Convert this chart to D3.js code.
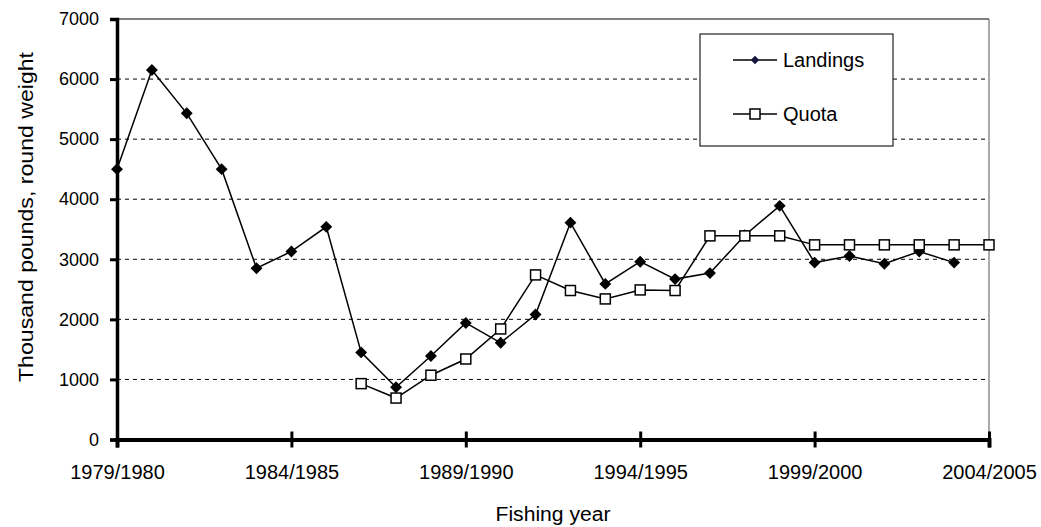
<html>
<head>
<meta charset="utf-8">
<script src="https://d3js.org/d3.v7.min.js"></script>
<style>
body { margin: 0; background: #fff; }
svg text { font-family: "Liberation Sans", Arial, sans-serif; fill: #000; }
</style>
</head>
<body>
<svg id="chart" width="1041" height="527"></svg>
<script>
// fishing years, one label per season
var fishingYears = ["1979/1980","1980/1981","1981/1982","1982/1983","1983/1984","1984/1985",
	"1985/1986","1986/1987","1987/1988","1988/1989","1989/1990","1990/1991","1991/1992",
	"1992/1993","1993/1994","1994/1995","1995/1996","1996/1997","1997/1998","1998/1999",
	"1999/2000","2000/2001","2001/2002","2002/2003","2003/2004","2004/2005"];
var landings = [4500, 6150, 5430, 4500, 2850, 3130, 3540, 1450, 870, 1390, 1940, 1610, 2080,
	3610, 2590, 2960, 2670, 2770, 3400, 3890, 2945, 3055, 2925, 3130, 2945, null];
var quota = [null, null, null, null, null, null, null, 930, 690, 1070, 1340, 1840, 2740,
	2480, 2340, 2490, 2480, 3390, 3390, 3390, 3240, 3240, 3240, 3240, 3240, 3240];
var yTicks = [0, 1000, 2000, 3000, 4000, 5000, 6000, 7000];
var xLabelIdx = [0, 5, 10, 15, 20, 25];
var seriesNames = ["Landings", "Quota"];

var width = 1041, height = 527;
var margin = {top: 19, right: 52, bottom: 87.5, left: 117};
var innerwidth = width - margin.left - margin.right;
var innerheight = height - margin.top - margin.bottom;

var svg = d3.select("#chart");
var g = svg.append("g").attr("transform", "translate(" + margin.left + "," + margin.top + ")");

var x = d3.scaleLinear().domain([0, fishingYears.length - 1]).range([0, innerwidth]);
var y = d3.scaleLinear().domain([0, 7000]).range([innerheight, 0]);

// gridlines
g.selectAll(".grid").data(yTicks.filter(d => d > 0 && d < 7000)).enter()
	.append("line")
	.attr("x1", 0).attr("x2", innerwidth)
	.attr("y1", d => y(d)).attr("y2", d => y(d))
	.attr("stroke", "#000").attr("stroke-width", 1)
	.attr("stroke-dasharray", "4,4");
// top and right frame
g.append("line").attr("x1", 0).attr("x2", innerwidth).attr("y1", y(7000)).attr("y2", y(7000))
	.attr("stroke", "#000").attr("stroke-width", 1.2);
g.append("line").attr("x1", innerwidth).attr("x2", innerwidth).attr("y1", y(7000)).attr("y2", y(0))
	.attr("stroke", "#555").attr("stroke-width", 1);

// y axis
var yAxis = g.append("g")
	.call(d3.axisLeft(y).tickValues(yTicks).tickFormat(d3.format("d")).tickSize(7).tickPadding(11));
yAxis.select(".domain").attr("stroke-width", 3.5);
yAxis.selectAll(".tick line").attr("stroke-width", 3);
yAxis.selectAll(".tick text").style("font-size", "18px");

// x axis
var xAxis = g.append("g")
	.attr("transform", "translate(0," + innerheight + ")")
	.call(d3.axisBottom(x).tickValues(xLabelIdx).tickFormat(i => fishingYears[i]).tickSize(8).tickPadding(17));
xAxis.select(".domain").attr("stroke-width", 4);
xAxis.selectAll(".tick line").attr("y1", -8).attr("stroke-width", 3);
xAxis.selectAll(".tick text").style("font-size", "20px");
svg.selectAll(".domain, .tick line").attr("stroke", "#000");

// axis titles
svg.append("text")
	.attr("x", margin.left + innerwidth / 2).attr("y", 521)
	.attr("text-anchor", "middle").style("font-size", "20px")
	.attr("textLength", 115).attr("lengthAdjust", "spacingAndGlyphs")
	.text("Fishing year");
svg.append("text")
	.attr("transform", "translate(33,217) rotate(-90)")
	.attr("text-anchor", "middle").style("font-size", "20px")
	.attr("textLength", 330).attr("lengthAdjust", "spacingAndGlyphs")
	.text("Thousand pounds, round weight");

// lines
var line = d3.line().defined(d => d != null).x((d, i) => x(i)).y(d => y(d));
g.append("path").datum(landings).attr("d", line)
	.attr("fill", "none").attr("stroke", "#000").attr("stroke-width", 1.5);
g.append("path").datum(quota).attr("d", line)
	.attr("fill", "none").attr("stroke", "#000").attr("stroke-width", 1.5);

// markers
var diamond = d3.symbol().type(d3.symbolDiamond2).size(90);
g.selectAll(".dia").data(landings.map((v, i) => [i, v]).filter(d => d[1] != null)).enter()
	.append("path")
	.attr("d", diamond)
	.attr("transform", d => "translate(" + x(d[0]) + "," + y(d[1]) + ")")
	.attr("fill", "#000");
g.selectAll(".sq").data(quota.map((v, i) => [i, v]).filter(d => d[1] != null)).enter()
	.append("rect")
	.attr("x", d => x(d[0]) - 5).attr("y", d => y(d[1]) - 5)
	.attr("width", 10).attr("height", 10)
	.attr("fill", "#fff").attr("stroke", "#000").attr("stroke-width", 1.5);

// legend
var legend = svg.append("g").attr("transform", "translate(700,34)");
legend.append("rect").attr("width", 193).attr("height", 112)
	.attr("fill", "#fff").attr("stroke", "#222").attr("stroke-width", 1.2);
seriesNames.forEach(function(name, k) {
	var ly = k == 0 ? 26 : 80;
	legend.append("line").attr("x1", 33).attr("x2", 77).attr("y1", ly).attr("y2", ly)
		.attr("stroke", "#000").attr("stroke-width", 1.5);
	if (k == 0) {
		legend.append("path").attr("d", d3.symbol().type(d3.symbolDiamond2).size(45))
			.attr("transform", "translate(55," + ly + ")").attr("fill", "#14143c");
	} else {
		legend.append("rect").attr("x", 50).attr("y", ly - 5).attr("width", 10).attr("height", 10)
			.attr("fill", "#fff").attr("stroke", "#000").attr("stroke-width", 1.5);
	}
	legend.append("text").attr("x", 83).attr("y", ly).attr("dy", "0.35em")
		.style("font-size", "20px").text(name);
});
</script>
</body>
</html>
